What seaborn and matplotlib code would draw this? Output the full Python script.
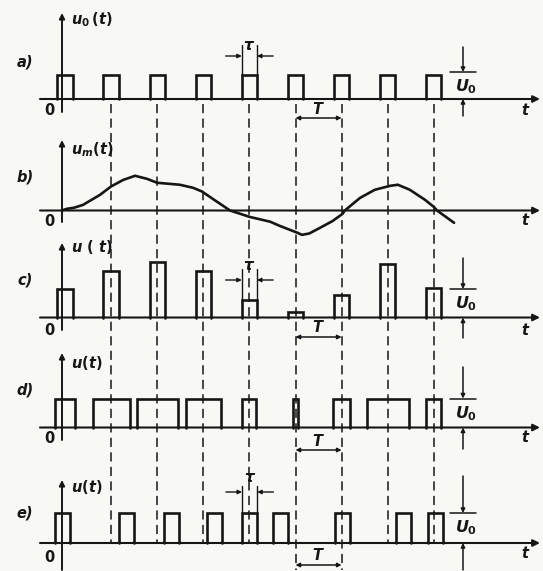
import numpy as np
import matplotlib
matplotlib.use("Agg")
import matplotlib.pyplot as plt
import seaborn as sns
import pandas as pd

sns.set_style("white")
plt.rcParams['font.family'] = ['DejaVu Sans']
plt.rcParams['mathtext.fontset'] = 'custom'
plt.rcParams['mathtext.it'] = 'DejaVu Sans:italic:bold'
plt.rcParams['mathtext.rm'] = 'DejaVu Sans:bold'
plt.rcParams['mathtext.bf'] = 'DejaVu Sans:bold'

# ---------------- data (time in units of T, amplitude in units of U0) -------------
panels = ["a)", "b)", "c)", "d)", "e)"]
axis_labels = [r"$u_0\,(t)$", r"$u_m(t)$", r"$u\ (\ t)$", r"$u(t)$", r"$u(t)$"]
samples = [0, 1, 2, 3, 4, 5, 6, 7, 8]
tau = 0.33                                    # pulse width of the carrier
pam_heights = [1.0, 1.64, 1.93, 1.64, 0.61, 0.18, 0.79, 1.86, 1.04]   # c) PAM
pwm_widths = [0.43, 0.80, 0.89, 0.76, 0.30, 0.13, 0.37, 0.91, 0.33]   # d) PDM
ppm_starts = [-0.22, 1.17, 2.15, 3.08, 3.84, 4.51, 5.86, 7.18, 7.87]  # e) PPM
msg_t = [-0.07, 0.04, 0.2, 0.39, 0.76, 1.0, 1.26, 1.52, 1.78, 2.0, 2.49, 2.78,
         2.97, 3.21, 3.58, 4.01, 4.45, 4.66, 5.05, 5.14, 5.30, 5.53, 5.80, 6.02,
         6.07, 6.40, 6.72, 7.05, 7.22, 7.48, 7.81, 8.0, 8.07, 8.44]
msg_u = [0.0, 0.06, 0.10, 0.20, 0.56, 0.86, 1.09, 1.24, 1.13, 0.99, 0.92, 0.81,
         0.68, 0.41, 0.0, -0.23, -0.40, -0.55, -0.80, -0.87, -0.82, -0.62, -0.38,
         -0.12, 0.0, 0.45, 0.74, 0.88, 0.92, 0.74, 0.38, 0.13, 0.0, -0.44]

# ---------------- layout (pixels) ----------------
W, H = 543, 571
X0, TPX = 65.0, 46.1
base = {"a": 99, "b": 210.5, "c": 317.5, "d": 427.5, "e": 543}
hpx = {"a": 24, "b": 28, "c": 28.5, "d": 29, "e": 30}
ink = "#161616"
bg = "#f8f8f5"

def tx(px):
    return (px - X0) / TPX

fig = plt.figure(figsize=(W / 100, H / 100), dpi=100, facecolor=bg)
ax = fig.add_axes([0, 0, 1, 1])
ax.set_facecolor(bg)

fkw = dict(color=ink, fontsize=10.5, fontweight="bold", fontstyle="italic")

def pulse(left, width, b, h, lw=1.9):
    ax.plot([left, left, left + width, left + width], [b, b - h, b - h, b],
            color=ink, lw=lw, solid_joinstyle="miter")

def arrow(x1, y1, x2, y2, lw=1.3, ms=8):
    ax.annotate("", xy=(x2, y2), xytext=(x1, y1),
                arrowprops=dict(arrowstyle="-|>", lw=lw, color=ink,
                                mutation_scale=ms, shrinkA=0, shrinkB=0))

# b) message (seaborn line)
df = pd.DataFrame({"t": msg_t, "y": [base["b"] - u * hpx["b"] for u in msg_u]})
sns.lineplot(data=df, x="t", y="y", sort=False, color=ink, lw=1.9, ax=ax)

ax.set_xlim(tx(0), tx(W))
ax.set_ylim(H, 0)
ax.axis("off")

yaxis_x = tx(62)
yaxis_ext = {"a": (112, 13), "b": (222, 140), "c": (330, 243), "d": (440, 353), "e": (570, 480)}
lab_y = {"a": 62, "b": 177, "c": 280, "d": 390, "e": 513}
ylab_y = {"a": 20, "b": 150, "c": 247, "d": 363, "e": 487}
zero_y = {"a": 110, "b": 221, "c": 330, "d": 438, "e": 557}
t_y = {"a": 110, "b": 220, "c": 330, "d": 437, "e": 553}

for key, plab, ylab in zip("abcde", panels, axis_labels):
    b = base[key]
    arrow(tx(40), b, tx(540), b, lw=1.5, ms=10)
    y1, y2 = yaxis_ext[key]
    arrow(yaxis_x, y1, yaxis_x, y2, lw=1.4, ms=8)
    ax.text(tx(25), lab_y[key], plab, ha="center", va="center", **fkw)
    ax.text(tx(71), ylab_y[key], ylab, ha="left", va="center", **fkw)
    ax.text(tx(50), zero_y[key], r"$0$", ha="center", va="center", **fkw)
    ax.text(tx(526), t_y[key], r"$t$", ha="center", va="center", **fkw)

# dashed sampling lines
for k in samples[1:]:
    y_end = 570 if k in (5, 6) else base["e"]
    ax.plot([k, k], [104, y_end], color=ink, lw=1.1, ls=(0, (6, 3.5)))

# a) carrier
for k in samples:
    pulse(k - tau / 2, tau, base["a"], hpx["a"])
# c) PAM
for k, h in zip(samples, pam_heights):
    pulse(k - tau / 2, tau, base["c"], h * hpx["c"])
# d) PDM
for k, w in zip(samples, pwm_widths):
    pulse(k - w / 2, w, base["d"], hpx["d"])
# e) PPM
for s in ppm_starts:
    pulse(s, tau, base["e"], hpx["e"])

# U0 markers
ux = tx(463)
u_up = {"a": 47, "c": 258, "d": 367, "e": 476}
u_low = {"a": 116, "c": 338, "d": 449, "e": 570}
for key in "acde":
    b = base[key]
    top = b - hpx[key] - (3 if key == "a" else 0)
    arrow(ux, u_up[key], ux, top, lw=1.1, ms=6)
    ax.plot([tx(450), tx(476)], [top, top], color=ink, lw=1.1)
    arrow(ux, u_low[key], ux, b, lw=1.1, ms=6)
    ax.text(tx(466), top + 15, r"$U_0$", ha="center", va="center",
            color=ink, fontsize=11.5)

# T spans
for key, y in zip("acde", [118, 337, 450, 565]):
    ax.annotate("", xy=(6, y), xytext=(5, y),
                arrowprops=dict(arrowstyle="<|-|>", lw=1.1, color=ink,
                                mutation_scale=6, shrinkA=0, shrinkB=0))
    ax.text(5.5, y - 1.5, r"$T$", ha="center", va="bottom", color=ink, fontsize=10.5)

# tau spans
def tau_mark(left, top, y_ext, y_arr, y_lab):
    right = left + tau
    ax.plot([left, left], [top, y_ext], color=ink, lw=1.0)
    ax.plot([right, right], [top, y_ext], color=ink, lw=1.0)
    arrow(left - 0.35, y_arr, left, y_arr, lw=1.0, ms=6)
    arrow(right + 0.35, y_arr, right, y_arr, lw=1.0, ms=6)
    ax.text(left + tau / 2, y_lab, r"$\tau$", ha="center", va="center",
            color=ink, fontsize=11)

tau_mark(4 - tau / 2, base["a"] - hpx["a"], 45, 56, 46)
tau_mark(4 - tau / 2, base["c"] - pam_heights[4] * hpx["c"], 269, 280, 265)
tau_mark(ppm_starts[4], base["e"] - hpx["e"], 486, 492, 478)

fig.savefig("out.png", dpi=100, facecolor=bg)
